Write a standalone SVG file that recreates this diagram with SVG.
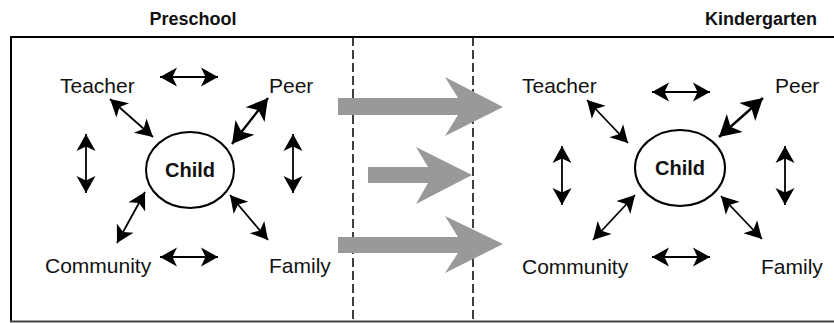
<svg xmlns="http://www.w3.org/2000/svg" width="834" height="323" viewBox="0 0 834 323">
<defs>
<style>
.lbl{font-family:"Liberation Sans",Arial,sans-serif;font-size:21px;fill:#111}
.ttl{font-family:"Liberation Sans",Arial,sans-serif;font-size:18px;font-weight:bold;fill:#111}
.ch{font-family:"Liberation Sans",Arial,sans-serif;font-size:20px;font-weight:bold;fill:#111}
.ell{fill:#fff;stroke:#000;stroke-width:2}
.dbl{stroke:#000;stroke-width:1.8;fill:none;marker-start:url(#h);marker-end:url(#h)}
.dblb{stroke:#000;stroke-width:2.4;fill:none;marker-start:url(#hb);marker-end:url(#hb)}
.big{fill:#999}
.dash{stroke:#000;stroke-width:1.5;stroke-dasharray:9 4;fill:none}
</style>
<marker id="h" markerUnits="userSpaceOnUse" markerWidth="24" markerHeight="24" viewBox="-20 -12 22 24" refX="0" refY="0" orient="auto-start-reverse">
<path d="M0,0 L-17,-9.5 L-12.5,0 L-17,9.5 Z" fill="#000"/>
</marker>
<marker id="hb" markerUnits="userSpaceOnUse" markerWidth="28" markerHeight="28" viewBox="-24 -14 26 28" refX="0" refY="0" orient="auto-start-reverse">
<path d="M0,0 L-21,-12 L-15.5,0 L-21,12 Z" fill="#000"/>
</marker>
</defs>
<rect width="834" height="323" fill="#fff"/>

<g id="frame">
<line x1="10" y1="37" x2="834" y2="37" stroke="#000" stroke-width="2"/>
<line x1="11" y1="36" x2="11" y2="322" stroke="#000" stroke-width="2"/>
<line x1="10" y1="321.5" x2="834" y2="321.5" stroke="#444" stroke-width="2"/>
<line class="dash" x1="353" y1="37" x2="353" y2="323"/>
<line class="dash" x1="473" y1="37" x2="473" y2="323"/>
</g>

<g id="titles">
<text class="ttl" x="193" y="25" text-anchor="middle">Preschool</text>
<text class="ttl" x="761" y="25" text-anchor="middle">Kindergarten</text>
</g>

<g id="transition-arrows">
<polygon class="big" points="338,98 458,98 445,77 503,107 445,136 458,115 338,115"/>
<polygon class="big" points="368,167 428,167 416,147 472,175 416,204 428,183 368,183"/>
<polygon class="big" points="338,237 458,237 445,216 503,244 445,273 458,253 338,253"/>
</g>

<g id="preschool-child">
<ellipse class="ell" cx="190" cy="170" rx="44" ry="38"/>
<text class="ch" x="190" y="177" text-anchor="middle">Child</text>
</g>
<g id="preschool-teacher"><text class="lbl" x="60" y="93">Teacher</text></g>
<g id="preschool-peer"><text class="lbl" x="269" y="93">Peer</text></g>
<g id="preschool-community"><text class="lbl" x="45" y="273">Community</text></g>
<g id="preschool-family"><text class="lbl" x="269" y="273">Family</text></g>

<g id="kindergarten-child">
<ellipse class="ell" cx="680" cy="168" rx="45" ry="38"/>
<text class="ch" x="680" y="175" text-anchor="middle">Child</text>
</g>
<g id="kindergarten-teacher"><text class="lbl" x="522" y="93">Teacher</text></g>
<g id="kindergarten-peer"><text class="lbl" x="775" y="93">Peer</text></g>
<g id="kindergarten-community"><text class="lbl" x="522" y="274">Community</text></g>
<g id="kindergarten-family"><text class="lbl" x="761" y="274">Family</text></g>

<g id="connectors">
<line class="dbl" x1="160" y1="77" x2="218" y2="77"/>
<line class="dbl" x1="110" y1="99" x2="153" y2="137"/>
<line class="dblb" x1="268" y1="98" x2="232" y2="144"/>
<line class="dbl" x1="86" y1="134" x2="86" y2="193"/>
<line class="dbl" x1="293" y1="134" x2="293" y2="193"/>
<line class="dbl" x1="117" y1="243" x2="145" y2="192"/>
<line class="dbl" x1="230" y1="195" x2="268" y2="240"/>
<line class="dbl" x1="160" y1="257" x2="218" y2="257"/>

<line class="dbl" x1="652" y1="92" x2="710" y2="92"/>
<line class="dbl" x1="587" y1="100" x2="628" y2="143"/>
<line class="dblb" x1="763" y1="98" x2="719" y2="137"/>
<line class="dbl" x1="562" y1="146" x2="562" y2="205"/>
<line class="dbl" x1="785" y1="146" x2="785" y2="205"/>
<line class="dbl" x1="593" y1="240" x2="635" y2="195"/>
<line class="dbl" x1="721" y1="196" x2="762" y2="239"/>
<line class="dbl" x1="652" y1="257" x2="710" y2="257"/>
</g>
</svg>
